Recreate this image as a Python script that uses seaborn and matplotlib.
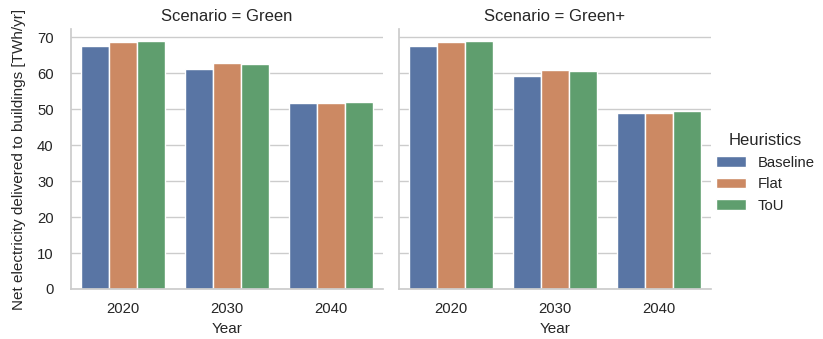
import matplotlib
matplotlib.use("Agg")
import matplotlib.pyplot as plt
import pandas as pd
import seaborn as sns

scenarios = ["Green", "Green+"]
years = [2020, 2030, 2040]
heuristics = ["Baseline", "Flat", "ToU"]

# Net electricity delivered [TWh/yr], per heuristic, in year order
green_baseline = [67.5, 61.3, 51.7]
green_flat = [68.8, 62.9, 51.8]
green_tou = [68.9, 62.5, 52.1]
greenplus_baseline = [67.5, 59.4, 49.0]
greenplus_flat = [68.8, 61.0, 49.0]
greenplus_tou = [68.9, 60.7, 49.4]

series = {
    ("Green", "Baseline"): green_baseline,
    ("Green", "Flat"): green_flat,
    ("Green", "ToU"): green_tou,
    ("Green+", "Baseline"): greenplus_baseline,
    ("Green+", "Flat"): greenplus_flat,
    ("Green+", "ToU"): greenplus_tou,
}

rows = []
for (scen, heur), vals in series.items():
    for yr, v in zip(years, vals):
        rows.append({"Scenario": scen, "Heuristics": heur, "Year": yr, "value": v})
df = pd.DataFrame(rows)

sns.set_theme(style="whitegrid", rc={
    "xtick.labelsize": 10.7,
    "ytick.labelsize": 10.7,
    "axes.labelsize": 11,
    "legend.fontsize": 10.7,
    "legend.title_fontsize": 12,
})
plt.rcParams["font.family"] = ["Liberation Sans", "DejaVu Sans"]

g = sns.catplot(
    data=df, x="Year", y="value", hue="Heuristics", col="Scenario",
    kind="bar", errorbar=None, col_order=scenarios, hue_order=heuristics,
    height=3.39, aspect=1.0,
)
g.set_titles(size=12)
g.set_axis_labels("Year", "Net electricity delivered to buildings [TWh/yr]")
g.tick_params(axis="y", pad=6.5)
g.axes.flat[0].yaxis.labelpad = 8
g.figure.set_size_inches(8.23, 3.39)
g.figure.subplots_adjust(left=71 / 823, right=711 / 823, bottom=1 - 289 / 339,
                         top=1 - 29 / 339, wspace=16 / 312)
sns.move_legend(g, "center left", bbox_to_anchor=(703 / 823, 0.49), frameon=False)

g.figure.savefig("out.png", dpi=100)
